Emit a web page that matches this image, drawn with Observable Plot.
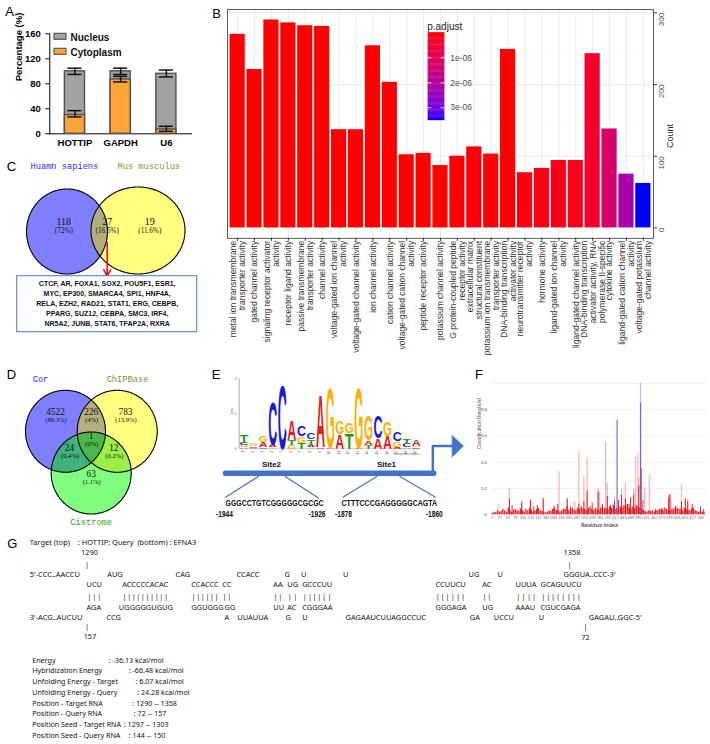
<!DOCTYPE html>
<html>
<head>
<meta charset="utf-8">
<script src="https://cdn.jsdelivr.net/npm/d3@7"></script>
<script src="https://cdn.jsdelivr.net/npm/@observablehq/plot@0.6"></script>
<style>
  html, body { margin: 0; padding: 0; background: #fff; }
  #fig { position: relative; width: 710px; height: 744px; overflow: hidden; background: #fff; }
</style>
</head>
<body>
<div id="fig"></div>
<script>
// ======================= DATA =======================
// Panel A: subcellular fractionation (%)
const aGenes = ["HOTTIP", "GAPDH", "U6"];
const aCytoplasm = [30, 87, 7];
const aTotal = [100, 100, 96];
const aCytoLow = [27, 83, 4];
const aCytoHigh = [37, 92, 12];
const aTotalLow = [95, 95, 91];
const aTotalHigh = [105, 105, 102];
const aTicks = [0, 40, 80, 120, 160];
const aLegendLabels = ["Nucleus", "Cytoplasm"];
const aYLabel = "Percentage (%)";

// Panel B: GO enrichment
const bTerms = [
  "metal ion transmembrane\ntransporter activity",
  "gated channel activity",
  "signaling receptor activator\nactivity",
  "receptor ligand activity",
  "passive transmembrane\ntransporter activity",
  "channel activity",
  "voltage-gated ion channel\nactivity",
  "voltage-gated channel activity",
  "ion channel activity",
  "cation channel activity",
  "voltage-gated cation channel\nactivity",
  "peptide receptor activity",
  "potassium channel activity",
  "G protein-coupled peptide\nreceptor activity",
  "extracellular matrix\nstructural constituent",
  "potassium ion transmembrane\ntransporter activity",
  "DNA-binding transcription\nactivator activity",
  "neurotransmitter receptor\nactivity",
  "hormone activity",
  "ligand-gated ion channel\nactivity",
  "ligand-gated channel activity",
  "DNA-binding transcription\nactivator activity, RNA\npolymerase II-specific",
  "cytokine activity",
  "ligand-gated cation channel\nactivity",
  "voltage-gated potassium\nchannel activity"
];
const bCount = [270, 221, 290, 286, 282, 281, 137, 137, 254, 203, 102, 104, 87, 100, 113, 103, 249, 77, 83, 94, 94, 243, 138, 75, 62];
const bPadjust = [5.1e-25, 3.2e-17, 1.1e-27, 2.4e-26, 6.3e-26, 8.8e-26, 4.5e-13, 4.5e-13, 2.2e-22, 7.6e-17,
  3.1e-9, 4.0e-9, 1.9e-9, 6.2e-9, 5.5e-8, 2.7e-8, 1.4e-8, 9.9e-8, 1.2e-7, 1.6e-7, 1.6e-7, 3.8e-7, 1.25e-6, 2.2e-6, 3.47e-6];
const bCountTicks = [0, 100, 200, 300];
const bLegendTicks = [1e-6, 2e-6, 3e-6];
const bLegendLabels = ["1e-06", "2e-06", "3e-06"];
const bLegendTitle = "p.adjust";
const bYLabel = "Count";

// Panel C: Venn
const cSets = ["Huamn sapiens", "Mus musculus"];
const cCounts = ["118", "27", "19"];
const cPercents = ["(72%)", "(16.5%)", "(11.6%)"];
const cGenes = [
  "CTCF, AR, FOXA1, SOX2, POU5F1, ESR1,",
  "MYC, EP300, SMARCA4, SPI1, HNF4A,",
  "RELA, EZH2, RAD21, STAT1, ERG, CEBPB,",
  "PPARG, SUZ12, CEBPA, SMC3, IRF4,",
  "NR5A2, JUNB, STAT6, TFAP2A, RXRA"
];

// Panel D: Venn
const dSets = ["Cor", "ChIPBase", "Cistrome"];
const dCounts = ["4522", "226", "783", "1", "24", "12", "63"];
const dPercents = ["(80.3%)", "(4%)", "(13.9%)", "(0%)", "(0.4%)", "(0.2%)", "(1.1%)"];

// Panel E: motif logo (bits), stacked bottom -> top per position
const logoPositions = [1,2,3,4,5,6,7,8,9,10,11,12,13,14,15,16,17,18,19];
const logoPos =    [1,1,1,1, 2,2,2, 3,3,3, 4,4,4, 5, 6,6,6, 7,7,7, 8,8,8,8, 9,9, 10,10, 11,11, 12,12, 13,13, 14,14,14, 15,15, 16,16, 17,17,17, 18,18,18, 19,19,19];
const logoLetter = ["A","G","C","T", "A","C","G", "C","A","G", "G","A","C", "C", "G","T","A", "T","G","C", "G","A","T","C", "C","A", "A","G", "A","G", "T","G", "A","G", "T","A","G", "A","C", "A","G", "A","G","C", "A","C","T", "C","G","A"];
const logoBits =   [0.04,0.06,0.08,0.22, 0.03,0.04,0.08, 0.05,0.15,0.17, 0.04,0.08,1.25, 1.85, 0.1,0.15,0.57, 0.18,0.2,0.3, 0.05,0.07,0.15,0.2, 0.04,1.5, 0.03,1.75, 0.43,0.38, 0.45,0.3, 0.03,1.75, 0.12,0.12,0.72, 0.3,0.65, 0.38,0.4, 0.06,0.15,0.25, 0.05,0.1,0.15, 0.04,0.05,0.18];
const eSites = ["Site2", "Site1"];
const eSeqs = ["GGGCCTGTCGGGGGCGCGC", "CTTTCCCGAGGGGGCAGTA"];
const eSeqStart = ["-1944", "-1878"];
const eSeqEnd = ["-1926", "-1860"];

// Panel F: classification threshold per residue
const fBase = [0.01,0.02,0.015,0.03,0.02,0.025,0.04,0.03,0.02,0.05,0.03,0.02,0.035,0.04,0.025,0.03,0.045,0.03,0.02,0.04,
  0.03,0.05,0.035,0.02,0.03,0.04,0.05,0.03,0.025,0.02,0.015,0.02,0.03,0.025,0.04,0.05,0.035,0.03,0.02,0.03,
  0.045,0.04,0.06,0.03,0.04,0.05,0.035,0.03,0.05,0.04,0.06,0.045,0.04,0.03,0.05,0.06,0.04,0.035,0.05,0.04,
  0.03,0.05,0.06,0.045,0.05,0.04,0.06,0.05,0.07,0.045,0.05,0.04,0.06,0.05,0.07,0.06,0.08,0.05,0.04,0.06,
  0.05,0.07,0.06,0.05,0.04,0.03,0.025,0.02,0.03,0.025,0.03,0.02,0.035,0.03,0.04,0.045,0.03,0.05,0.04,0.035,
  0.03,0.045,0.04,0.06,0.05,0.04,0.045,0.03,0.05,0.04,0.035,0.03,0.04,0.05,0.03,0.025,0.02,0.03,0.02,0.015];
const fBaseStart = 1, fBaseStep = 6;
const fLightRes = [21,59,85,102,130,173,226,254,278,293,310,321,358,362,389,413,437,450,478,484,492,495,515,531,596,600,639,652,660,675];
const fLightVal = [0.08,0.2,0.05,0.11,0.12,0.13,0.33,0.12,0.1,0.48,0.29,0.43,0.2,0.18,0.24,0.14,0.19,0.24,0.19,0.44,0.47,0.28,0.21,0.3,0.15,0.155,0.225,0.12,0.12,0.06];
const fDarkRes = [59,68,100,130,141,153,173,209,222,254,265,293,310,321,338,358,372,389,400,413,427,437,450,462,467,478,495,503,509,551,574,596,600,619,639,652,660,675,703,714];
const fDarkVal = [0.12,0.07,0.09,0.11,0.06,0.07,0.12,0.066,0.08,0.12,0.06,0.08,0.1,0.18,0.09,0.17,0.08,0.14,0.07,0.1,0.11,0.15,0.12,0.08,0.13,0.15,0.22,0.35,0.11,0.04,0.046,0.13,0.15,0.06,0.1,0.12,0.1,0.08,0.06,0.04];
const fBlueLightRes = [383, 501];
const fBlueLightVal = [0.555, 1.0];
const fBlueDarkRes = [422, 501];
const fBlueDarkVal = [0.72, 0.85];
const fXTicks = [1,27,53,79,105,131,157,183,209,235,261,287,313,339,365,391,417,443,469,495,521,547,573,599,625,651,677,703];
const fYTicks = [0, 0.2, 0.4, 0.6, 0.8];
const fYLabels = ["0", "0.2", "0.4", "0.6", "0.8"];
const fXLabel = "Residue index", fYLabel = "Classification threshold";

// Panel G: RNA-RNA interaction
const gHeader = ["Target (top)", ": HOTTIP; Query  (bottom) : EFNA3"];
const gTargetUnpaired = ["5'-CCC..AACCU","AUG","CAG","CCACC","G","U","U","UG","U","GGGUA..CCC-3'"];
const gTargetPaired = ["UCU","ACCCCCACAC","CCACCC","CC","AA","UG","GCCCUU","CCUUCU","AC","UUUA","GCAGUUCU"];
const gQueryPaired = ["AGA","UGGGGGUGUG","GGUGGG","GG","UU","AC","CGGGAA","GGGAGA","UG","AAAU","CGUCGAGA"];
const gQueryUnpaired = ["3'-ACG..AUCUU","CCG","A","UUAUUA","G","U","GAGAAUCUUAGGCCUC","GA","UCCU","U","GAGAU..GGC-5'"];
const gPositions = ["1290", "1358", "157", "72"];
const gEnergyLabels = ["Energy","Hybridization Energy","Unfolding Energy - Target","Unfolding Energy - Query","Position - Target RNA","Position - Query RNA","Position Seed - Target RNA","Position Seed - Query RNA"];
const gEnergyValues = [": -36.13 kcal/mol",": -66.48 kcal/mol",": 6.07 kcal/mol",": 24.28 kcal/mol",": 1290 -- 1358",": 72 -- 157",": 1297 -- 1303",": 144 -- 150"];

const panelLetters = ["A","B","C","D","E","F","G"];

// ======================= LAYOUT (positions / styles) =======================
const FONT = '"Liberation Sans", Arial, Helvetica, sans-serif';
const fig = document.getElementById("fig");
function place(svg, left, top) {
  svg.style.position = "absolute";
  svg.style.left = left + "px";
  svg.style.top = top + "px";
  svg.style.background = "transparent";
  svg.style.overflow = "visible";
  fig.appendChild(svg);
}
const ctx = document.createElement("canvas").getContext("2d");
function measure(str, font) { ctx.font = font; return ctx.measureText(str).width; }
function translateOf(el) {
  let tx = +el.getAttribute("x") || 0, ty = +el.getAttribute("y") || 0;
  const tr = el.getAttribute("transform");
  const m = tr && tr.match(/translate\(\s*([-\d.e]+)[ ,]+([-\d.e]+)\s*\)/);
  if (m) { tx += +m[1]; ty += +m[2]; }
  return [tx, ty];
}

const panelXY = [[9.2,11.8],[216,13.3],[11,166],[11,374],[215.5,374],[478.5,374],[11.7,543.3]];

const cGeom = [{cx:66.5, cy:231, rx:40.5, ry:42.5}, {cx:137.5, cy:230, rx:47, ry:43.5}];
const cFill = ["#8080ff", "#ffff80", "#b4ad79"];
const cSetXY = [[30,165.7],[117,165.7]];
const cSetColor = ["#2b2bff", "#8f8a3c"];
const cNumXY = [[63.3,221.7],[106.7,221.7],[149.3,221.7]];
const dGeom = [{cx:65, cy:430.8, rx:40, ry:41}, {cx:116.7, cy:430.8, rx:40, ry:41}, {cx:90.7, cy:472.5, rx:40, ry:41}];
const dFill = ["#8080ff", "#ffff80", "#80ff80"];
const dPairFill = ["#b6ae7c", "#41b27a", "#9cef46"];
const dTripleFill = "#4cb84c";
const dNumXY = [[55,411.2],[90.7,411.2],[125,411.2],[90.7,435.2],[69,447.2],[113.3,447.2],[90.7,473.8]];
const dSetXY = [[40,378.5],[127,378.5],[90.7,521.7]];
const dSetColor = ["#2b2bff", "#8f8a3c", "#33a533"];

// ======================= helpers =======================
function ellipsePts(e, step) {
  const pts = [];
  for (let a = 0; a < 360; a += step) {
    const t = a * Math.PI / 180;
    pts.push({x: e.cx + e.rx * Math.cos(t), y: e.cy + e.ry * Math.sin(t)});
  }
  return pts;
}
function insideE(p, e) { const u = (p.x - e.cx) / e.rx, v = (p.y - e.cy) / e.ry; return u*u + v*v <= 1.0005; }
function regionPts(es) {
  const pts = [];
  es.forEach((e, i) => ellipsePts(e, 0.5).forEach(p => { if (es.every((o, j) => j === i || insideE(p, o))) pts.push(p); }));
  const mx = d3.mean(pts, p => p.x), my = d3.mean(pts, p => p.y);
  return pts.sort((a, b) => Math.atan2(a.y - my, a.x - mx) - Math.atan2(b.y - my, b.x - mx));
}
const shape = (pts, fill) => Plot.line(pts, {x: "x", y: "y", curve: "linear-closed", fill, stroke: "none"});
const outline = (pts) => Plot.line(pts, {x: "x", y: "y", curve: "linear-closed", fill: "none", stroke: "#000", strokeWidth: 1.1});
const T = (rows, o) => Plot.text(rows, {x: "x", y: "y", text: "t", ...o});

// ======================= LAYOUT PLOT (C, D, E annotations, G) =======================
const L = [];
L.push(T(panelLetters.map((t, i) => ({t, x: panelXY[i][0], y: panelXY[i][1]})), {fontSize: 13, fill: "#000"}));
// A legend
const aLegY = [[33.3, 39.3], [48.3, 54.3]];
const aLegFill = ["#a2a2a2", "#ffa53a"];
L.push(Plot.rect(aLegendLabels.map((t, i) => ({x1: 54, x2: 66, y1: aLegY[i][0], y2: aLegY[i][1], f: aLegFill[i]})), {x1: "x1", x2: "x2", y1: "y1", y2: "y2", fill: "f", stroke: "#505050", strokeWidth: 1.1}));
L.push(T(aLegendLabels.map((t, i) => ({t, x: 70, y: (aLegY[i][0] + aLegY[i][1]) / 2 + 0.5})), {textAnchor: "start", fontSize: 10, fontWeight: "bold", fill: "#111"}));

// C venn
cGeom.forEach((g, i) => L.push(shape(ellipsePts(g, 1), cFill[i])));
L.push(shape(regionPts(cGeom), cFill[2]));
cGeom.forEach(g => L.push(outline(ellipsePts(g, 1))));
L.push(T(cSets.map((t, i) => ({t, x: cSetXY[i][0], y: cSetXY[i][1], c: cSetColor[i]})), {textAnchor: "start", fontSize: 8.7, fontFamily: '"Liberation Mono", monospace', fill: "c"}));
L.push(T(cCounts.map((t, i) => ({t, x: cNumXY[i][0], y: cNumXY[i][1]})), {fontSize: 10, fontFamily: '"Liberation Serif", serif', fill: "#111"}));
L.push(T(cPercents.map((t, i) => ({t, x: cNumXY[i][0], y: cNumXY[i][1] + 8})), {fontSize: 7.2, fontFamily: '"Liberation Serif", serif', fill: "#111"}));
L.push(Plot.arrow([{x1: 106.7, y1: 242, x2: 106.7, y2: 275.5}], {x1: "x1", y1: "y1", x2: "x2", y2: "y2", stroke: "#ff0000", strokeWidth: 1.5, headLength: 7}));
L.push(Plot.rect([{x1: 16.7, x2: 196.7, y1: 275.7, y2: 331.7}], {x1: "x1", x2: "x2", y1: "y1", y2: "y2", fill: "white", stroke: "#4a78c8", strokeWidth: 1}));
L.push(T(cGenes.map((t, i) => ({t, x: 106.7, y: 282.8 + i * 10.1})), {fontSize: 7, fontWeight: "bold", fill: "#111"}));

// D venn
dGeom.forEach((g, i) => L.push(shape(ellipsePts(g, 1), dFill[i])));
L.push(shape(regionPts([dGeom[0], dGeom[1]]), dPairFill[0]));
L.push(shape(regionPts([dGeom[0], dGeom[2]]), dPairFill[1]));
L.push(shape(regionPts([dGeom[1], dGeom[2]]), dPairFill[2]));
L.push(shape(regionPts(dGeom), dTripleFill));
dGeom.forEach(g => L.push(outline(ellipsePts(g, 1))));
L.push(T(dSets.map((t, i) => ({t, x: dSetXY[i][0], y: dSetXY[i][1], c: dSetColor[i]})), {fontSize: 8.7, fontFamily: '"Liberation Mono", monospace', fill: "c"}));
L.push(T(dCounts.map((t, i) => ({t, x: dNumXY[i][0], y: dNumXY[i][1]})), {fontSize: 9.3, fontFamily: '"Liberation Serif", serif', fill: "#111"}));
L.push(T(dPercents.map((t, i) => ({t, x: dNumXY[i][0] + 0.5, y: dNumXY[i][1] + 7.8})), {fontSize: 6.6, fontFamily: '"Liberation Serif", serif', fill: "#111"}));

// E annotations
const BLUE = "#4472c4";
L.push(Plot.line([{x: 225, y: 472.7}, {x: 433.3, y: 472.7}], {x: "x", y: "y", stroke: BLUE, strokeWidth: 5.5}));
L.push(Plot.line([{x: 432.3, y: 471}, {x: 432.3, y: 445.5}, {x: 453, y: 445.5}], {x: "x", y: "y", stroke: BLUE, strokeWidth: 2.4}));
L.push(Plot.line([{x: 451.7, y: 435}, {x: 463, y: 445.5}, {x: 451.7, y: 456.5}], {x: "x", y: "y", curve: "linear-closed", fill: BLUE, stroke: BLUE, strokeWidth: 0.5}));
L.push(Plot.link([
  {x1: 258.3, y1: 475.7, x2: 225, y2: 496.7}, {x1: 284.3, y1: 475.7, x2: 318.3, y2: 497.7},
  {x1: 376.7, y1: 475.7, x2: 342.3, y2: 496.7}, {x1: 399, y1: 475.7, x2: 435, y2: 496.7}
], {x1: "x1", y1: "y1", x2: "x2", y2: "y2", stroke: BLUE, strokeWidth: 1.2}));
L.push(T(eSites.map((t, i) => ({t, x: [271, 386][i], y: 464.3})), {fontSize: 8, fontWeight: "bold", fill: "#111"}));
const SEQ_FONT = 'bold 9px "Liberation Sans"';
L.push(T(eSeqs.map((t, i) => ({t, x: [225, 341][i], y: 505})), {textAnchor: "start", fontSize: 9, fontWeight: "bold", fill: "#111"}));
L.push(T(eSeqStart.map((t, i) => ({t, x: [215.5, 334.5][i], y: 516.8})), {textAnchor: "start", fontSize: 8.5, fontWeight: "bold", fill: "#111"}));
L.push(T(eSeqEnd.map((t, i) => ({t, x: [325, 442.3][i], y: 516.8})), {textAnchor: "end", fontSize: 8.5, fontWeight: "bold", fill: "#111"}));
const eSeqWidth = [98.3, 95.7];

// G text block (font size calibrated so the widths match the reference)
const G_FAMILY = '"Noto Sans"';
const G_FS = 7.8 * 132.7 / measure("ACCCCCACACUGGGGGUGUGGGUGGG", `7.8px ${G_FAMILY}`);
const G_EFS = 8 * 89 / measure("Position Seed - Target RNA", `8px ${G_FAMILY}`);
const G_FONT = '"Noto Sans", "Open Sans", sans-serif';
const gRowY = {t1: 574, t2: 584.3, pipe: 596.2, q2: 606.7, q1: 616.7};
const gTUx = [29.3, 106.7, 175, 236, 284, 300.5, 342.5, 468, 497, 563];
const gTPx = [86, 121.7, 190.7, 221.7, 272.7, 286.7, 301.7, 435, 481.7, 515, 540];
const gQPx = [86, 118.3, 190.7, 224, 272.7, 286.7, 301.7, 435, 481.7, 515, 540];
const gQUx = [29.3, 106, 224, 236.7, 285, 301.7, 345, 469.3, 493.3, 538.3, 588.3];
function charCenters(str, x0) {
  const f = `${G_FS}px ${G_FAMILY}`, out = [];
  for (let k = 0; k < str.length; k++) out.push(x0 + measure(str.slice(0, k), f) + measure(str[k], f) / 2);
  return out;
}
const gText = {textAnchor: "start", fontSize: G_FS, fontFamily: G_FONT, fill: "#111"};
L.push(T([{t: gHeader[0], x: 29.3, y: 542.3}, {t: gHeader[1], x: 77.3, y: 542.3}], gText));
L.push(T(gTargetUnpaired.map((t, i) => ({t, x: gTUx[i], y: gRowY.t1})), gText));
L.push(T(gTargetPaired.map((t, i) => ({t, x: gTPx[i], y: gRowY.t2})), gText));
L.push(T(gQueryPaired.map((t, i) => ({t, x: gQPx[i], y: gRowY.q2})), gText));
L.push(T(gQueryUnpaired.map((t, i) => ({t, x: gQUx[i], y: gRowY.q1})), gText));
L.push(T(gTargetPaired.flatMap((s, i) => charCenters(s, gTPx[i]).map(x => ({t: "|", x, y: gRowY.pipe}))), {...gText, textAnchor: "middle"}));
const gPosXY = [[89, 552.3], [571.5, 552.3], [89.5, 636], [585, 637]];
L.push(T(gPositions.map((t, i) => ({t, x: gPosXY[i][0], y: gPosXY[i][1]})), {...gText, textAnchor: "middle"}));
L.push(T([[86.5, 564], [569, 564], [86.5, 626], [585, 626.5]].map(p => ({t: "|", x: p[0], y: p[1]})), {...gText, textAnchor: "middle"}));
const gColonX = [108.3, 128.3, 135, 136.7, 131.7, 133.3, 123.3, 128.3];
L.push(T(gEnergyLabels.map((t, i) => ({t, x: 31.7, y: 660 + i * 10.7})), {...gText, fontSize: G_EFS}));
L.push(T(gEnergyValues.map((t, i) => ({t, x: gColonX[i], y: 660 + i * 10.7})), {...gText, fontSize: G_EFS}));

const layout = Plot.plot({
  width: 710, height: 744, margin: 0,
  x: {domain: [0, 710], range: [0, 710], axis: null},
  y: {domain: [0, 744], range: [0, 744], axis: null},
  color: {type: "identity"},
  style: {fontFamily: FONT, whiteSpace: "pre", background: "white"},
  marks: L
});
place(layout, 0, 0);
layout.style.background = "white";
// narrow the bold sequence labels of panel E to the reference widths
(function narrowSeqs() {
  const sx = eSeqs.map((s, i) => eSeqWidth[i] / measure(s, SEQ_FONT));
  const k = d3.mean(sx);
  layout.querySelectorAll("text").forEach(el => {
    const s = el.textContent;
    let f = null;
    if (eSeqs.includes(s)) f = sx[eSeqs.indexOf(s)];
    else if (eSeqStart.includes(s) || eSeqEnd.includes(s)) f = k;
    if (f == null) return;
    const [tx, ty] = translateOf(el);
    el.removeAttribute("x"); el.removeAttribute("y");
    const dy = el.getAttribute("dy");
    el.setAttribute("transform", `translate(${tx},${ty}) scale(${f},1)`);
    if (dy) el.setAttribute("dy", dy);
  });
})();

// ======================= PANEL A =======================
const aData = aGenes.map((g, i) => ({gene: g, cyto: aCytoplasm[i], total: aTotal[i], cLo: aCytoLow[i], cHi: aCytoHigh[i], tLo: aTotalLow[i], tHi: aTotalHigh[i]}));
const errStyle = {stroke: "#111", strokeWidth: 1.5};
const plotA = Plot.plot({
  width: 200, height: 135, marginTop: 13.3, marginBottom: 21.7, marginLeft: 49.3, marginRight: 9,
  style: {fontFamily: FONT, fontSize: "9.5px", fontWeight: "bold", color: "#000", background: "transparent"},
  x: {domain: aGenes, paddingInner: 0.56, paddingOuter: 0.33, round: false, line: true, tickSize: 0, tickPadding: 5, label: null},
  y: {domain: [0, 160], ticks: aTicks, tickSize: 4, line: true, label: null},
  marks: [
    Plot.barY(aData, {x: "gene", y: "total", fill: "#a2a2a2", stroke: "#505050", strokeWidth: 1.4}),
    Plot.barY(aData, {x: "gene", y: "cyto", fill: "#ffa53a", stroke: "#505050", strokeWidth: 1.4}),
    Plot.ruleX(aData, {x: "gene", y1: "tLo", y2: "tHi", ...errStyle}),
    Plot.tickY(aData, {x: "gene", y: "tHi", insetLeft: 3, insetRight: 3, ...errStyle}),
    Plot.tickY(aData, {x: "gene", y: "tLo", insetLeft: 3, insetRight: 3, ...errStyle}),
    Plot.ruleX(aData, {x: "gene", y1: "cLo", y2: "cHi", ...errStyle}),
    Plot.tickY(aData, {x: "gene", y: "cHi", insetLeft: 3, insetRight: 3, ...errStyle}),
    Plot.tickY(aData, {x: "gene", y: "cLo", insetLeft: 3, insetRight: 3, ...errStyle}),
    Plot.text([aYLabel], {text: d => d, frameAnchor: "left", dx: -31, dy: -2.5, rotate: -90, fontSize: 9.5, fontWeight: "bold", fill: "#000"})
  ]
});
place(plotA, 0, 20);

// ======================= PANEL B =======================
const bData = bTerms.map((t, i) => ({id: i, term: t, count: bCount[i], padj: bPadjust[i]}));
const colorB = {type: "linear", domain: [0, 3.47e-6], range: ["#ff0000", "#0000ff"], interpolate: "lab"};
const plotB = Plot.plot({
  width: 480, height: 385, marginLeft: 22, marginRight: 32, marginTop: 9.1, marginBottom: 385 - 237.8,
  style: {fontFamily: FONT, background: "transparent"},
  x: {domain: bData.map(d => d.id), paddingInner: 0.1, paddingOuter: 0.15, round: false, axis: null},
  y: {domain: [-14.5, 304.5], axis: null},
  color: colorB,
  marks: [
    Plot.gridY([50, 150, 250], {stroke: "#f3f3f3", strokeOpacity: 1, strokeWidth: 0.5}),
    Plot.gridY(bCountTicks, {stroke: "#e6e6e6", strokeOpacity: 1, strokeWidth: 0.8}),
    Plot.gridX(bData.map(d => d.id), {stroke: "#e6e6e6", strokeOpacity: 1, strokeWidth: 0.8}),
    Plot.barY(bData, {x: "id", y: "count", fill: "padj"}),
    Plot.frame({stroke: "#333", strokeWidth: 0.8}),
    Plot.axisX({tickSize: 3, tickFormat: () => "", label: null, stroke: "#333"}),
    Plot.axisY({anchor: "right", ticks: bCountTicks, tickSize: 3, tickFormat: () => "", label: null, stroke: "#333"}),
    Plot.text(bCountTicks, {y: d => d, text: d => String(d), frameAnchor: "right", dx: 7.5, rotate: -90, fontSize: 8, fill: "#4d4d4d"}),
    Plot.text([bYLabel], {text: d => d, frameAnchor: "right", dx: 16.5, rotate: -90, fontSize: 9, fill: "#222"}),
    Plot.text(bData, {x: "id", text: "term", frameAnchor: "bottom", dy: 2.5, rotate: -90, textAnchor: "end", lineAnchor: "middle", fontSize: 8.5, lineHeight: 1.06, fill: "#333"})
  ]
});
place(plotB, 205, 0);

// B legend
const pRamp = d3.range(0, 101).map(k => colorB.domain[1] * k / 100);
const plotBLeg = Plot.plot({
  width: 80, height: 110, marginLeft: 7.7, marginRight: 80 - 24.3, marginTop: 18.3, marginBottom: 5,
  style: {fontFamily: FONT, background: "transparent"},
  x: {axis: null}, y: {domain: colorB.domain, reverse: true, axis: null},
  color: colorB,
  marks: [
    Plot.ruleY(pRamp, {y: d => d, stroke: d => d, strokeWidth: 1.3}),
    Plot.tickY(bLegendTicks, {y: d => d, stroke: "white", strokeWidth: 0.8, insetRight: 13}),
    Plot.tickY(bLegendTicks, {y: d => d, stroke: "white", strokeWidth: 0.8, insetLeft: 13}),
    Plot.text(bLegendTicks, {y: d => d, text: (d, i) => bLegendLabels[i], frameAnchor: "right", dx: 5.5, textAnchor: "start", fontSize: 8.5, fill: "#4d4d4d"}),
    Plot.text([bLegendTitle], {text: d => d, frameAnchor: "top-left", dx: -1, dy: -9.5, textAnchor: "start", fontSize: 10, fill: "#222"})
  ]
});
place(plotBLeg, 420, 14);

// ======================= PANEL E logo =======================
const logoColors = {A: "#e41e1e", C: "#1a1ad6", G: "#ffb000", T: "#1e9e1e"};
const logoAdv = {A: 0.722, C: 0.722, G: 0.778, T: 0.611};
const stackAcc = {};
const logoData = logoPos.map((p, i) => {
  const y0 = stackAcc[p] || 0;
  stackAcc[p] = y0 + logoBits[i];
  return {pos: p, letter: logoLetter[i], y0, h: logoBits[i], c: logoColors[logoLetter[i]]};
});
const plotE = Plot.plot({
  width: 200, height: 82, marginLeft: 13.7, marginRight: 4.4, marginTop: 3.3, marginBottom: 8.7,
  style: {fontFamily: FONT, background: "transparent"},
  x: {type: "linear", domain: [0.5, 19.5], axis: null},
  y: {domain: [0, 2], axis: null},
  color: {type: "identity"},
  marks: [
    Plot.text(logoData, {x: "pos", y: "y0", text: "letter", fill: "c", fontSize: 10, fontWeight: "bold", lineAnchor: "bottom", textAnchor: "middle"}),
    Plot.ruleX([0.5], {y1: 0, y2: 2, stroke: "#777", strokeWidth: 0.6}),
    Plot.ruleY([0], {stroke: "#999", strokeWidth: 0.5}),
    Plot.text([0, 1, 2], {y: d => d, text: d => String(d), frameAnchor: "left", dx: -2.5, textAnchor: "end", fontSize: 3.5, fill: "#555"}),
    Plot.text(["bits"], {text: d => d, frameAnchor: "left", dx: -7, rotate: -90, fontSize: 3.5, fill: "#555"}),
    Plot.text(logoPositions, {x: d => d, text: d => String(d), frameAnchor: "bottom", dy: 2, rotate: -90, textAnchor: "end", fontSize: 3.5, fill: "#555"}),
    Plot.text(["weblogo.berkeley.edu"], {text: d => d, frameAnchor: "bottom-right", dy: 6, dx: -2, textAnchor: "end", fontSize: 2.6, fill: "#777"})
  ]
});
place(plotE, 225, 375);
(function stretchLogo() {
  const xs = plotE.scale("x"), ys = plotE.scale("y");
  const unitW = xs.apply(1.5) - xs.apply(0.5);
  const glyphs = Array.from(plotE.querySelectorAll("text")).filter(el => /^[ACGT]$/.test(el.textContent));
  glyphs.forEach((el, k) => {
    const i = (typeof el.__data__ === "number") ? el.__data__ : k;
    const d = logoData[i];
    if (!d) return;
    const [tx, ty] = translateOf(el);
    const hPx = ys.apply(0) - ys.apply(d.h);
    const sx = (unitW * 0.94) / (logoAdv[d.letter] * 10);
    const sy = hPx / (0.716 * 10);
    el.removeAttribute("x"); el.removeAttribute("y"); el.removeAttribute("dy");
    el.setAttribute("transform", `translate(${tx},${ty}) scale(${sx},${sy})`);
  });
})();

// ======================= PANEL F =======================
const plotF = Plot.plot({
  width: 240, height: 155, marginLeft: 21.7, marginRight: 3.5, marginTop: 3, marginBottom: 20.7,
  style: {fontFamily: '"Lato", "Liberation Sans", sans-serif', background: "transparent"},
  x: {domain: [1, 725], axis: null},
  y: {domain: [0, 1], axis: null},
  marks: [
    Plot.gridY([0.2, 0.4, 0.6, 0.8, 1.0], {stroke: "#e9e9e9", strokeOpacity: 1, strokeWidth: 0.6}),
    Plot.ruleX(fLightRes, {x: d => d, y1: 0, y2: (d, i) => fLightVal[i], stroke: "#ff6060", strokeOpacity: 0.45, strokeWidth: 1.3}),
    Plot.ruleX(fBlueLightRes, {x: d => d, y1: 0, y2: (d, i) => fBlueLightVal[i], stroke: "#8f8fff", strokeOpacity: 0.6, strokeWidth: 1.3}),
    Plot.ruleX(fBase, {x: (d, i) => fBaseStart + fBaseStep * i, y1: 0, y2: d => d, stroke: "#e8262a", strokeWidth: 1.4}),
    Plot.ruleX(fDarkRes, {x: d => d, y1: 0, y2: (d, i) => fDarkVal[i], stroke: "#e31010", strokeOpacity: 0.9, strokeWidth: 1}),
    Plot.ruleX(fBlueDarkRes, {x: d => d, y1: 0, y2: (d, i) => fBlueDarkVal[i], stroke: "#5a5ae6", strokeOpacity: 0.85, strokeWidth: 1.2}),
    Plot.ruleY([0], {stroke: "#bbb", strokeWidth: 0.5}),
    Plot.text(fXTicks, {x: d => d, text: d => String(d), frameAnchor: "bottom", dy: 4, fontSize: 3.8, fill: "#666"}),
    Plot.text(fYTicks, {y: d => d, text: (d, i) => fYLabels[i], frameAnchor: "left", dx: -5, textAnchor: "end", fontSize: 4.5, fill: "#666"}),
    Plot.text([fYLabel], {text: d => d, frameAnchor: "left", dx: -12.5, rotate: -90, fontSize: 5, fill: "#555"}),
    Plot.text([fXLabel], {text: d => d, frameAnchor: "bottom", dy: 11.7, fontSize: 6, fontWeight: "bold", fill: "#555"})
  ]
});
place(plotF, 470, 380);
</script>
</body>
</html>
